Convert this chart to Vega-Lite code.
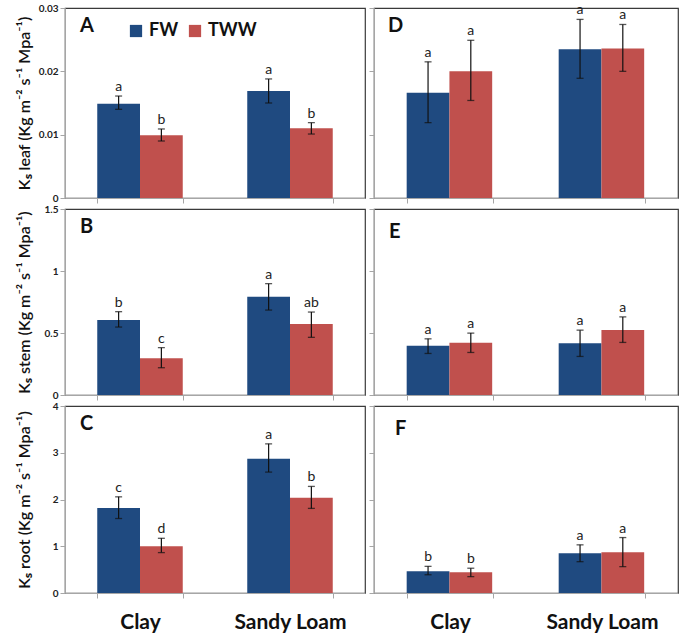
{
  "$schema": "https://vega.github.io/schema/vega-lite/v6.json",
  "padding": {"left": 15, "top": 2, "right": 4, "bottom": 4},
  "background": "white",
  "data": {"values": [
    {"panel": "A", "soil": "Clay", "trt": "FW", "value": 0.0149, "lo": 0.0140, "hi": 0.0161, "letter": "a"},
    {"panel": "A", "soil": "Clay", "trt": "TWW", "value": 0.0099, "lo": 0.0090, "hi": 0.0109, "letter": "b"},
    {"panel": "A", "soil": "Sandy Loam", "trt": "FW", "value": 0.0169, "lo": 0.0150, "hi": 0.0188, "letter": "a"},
    {"panel": "A", "soil": "Sandy Loam", "trt": "TWW", "value": 0.0110, "lo": 0.0101, "hi": 0.0119, "letter": "b"},
    {"panel": "D", "soil": "Clay", "trt": "FW", "value": 0.0166, "lo": 0.0119, "hi": 0.0215, "letter": "a"},
    {"panel": "D", "soil": "Clay", "trt": "TWW", "value": 0.0200, "lo": 0.0154, "hi": 0.0249, "letter": "a"},
    {"panel": "D", "soil": "Sandy Loam", "trt": "FW", "value": 0.0235, "lo": 0.0189, "hi": 0.0282, "letter": "a"},
    {"panel": "D", "soil": "Sandy Loam", "trt": "TWW", "value": 0.0236, "lo": 0.0200, "hi": 0.0274, "letter": "a"},
    {"panel": "B", "soil": "Clay", "trt": "FW", "value": 0.605, "lo": 0.548, "hi": 0.672, "letter": "b"},
    {"panel": "B", "soil": "Clay", "trt": "TWW", "value": 0.296, "lo": 0.220, "hi": 0.382, "letter": "c"},
    {"panel": "B", "soil": "Sandy Loam", "trt": "FW", "value": 0.793, "lo": 0.685, "hi": 0.898, "letter": "a"},
    {"panel": "B", "soil": "Sandy Loam", "trt": "TWW", "value": 0.573, "lo": 0.465, "hi": 0.669, "letter": "ab"},
    {"panel": "E", "soil": "Clay", "trt": "FW", "value": 0.397, "lo": 0.335, "hi": 0.453, "letter": "a"},
    {"panel": "E", "soil": "Clay", "trt": "TWW", "value": 0.421, "lo": 0.343, "hi": 0.499, "letter": "a"},
    {"panel": "E", "soil": "Sandy Loam", "trt": "FW", "value": 0.418, "lo": 0.311, "hi": 0.523, "letter": "a"},
    {"panel": "E", "soil": "Sandy Loam", "trt": "TWW", "value": 0.525, "lo": 0.424, "hi": 0.630, "letter": "a"},
    {"panel": "C", "soil": "Clay", "trt": "FW", "value": 1.82, "lo": 1.593, "hi": 2.057, "letter": "c"},
    {"panel": "C", "soil": "Clay", "trt": "TWW", "value": 1.0, "lo": 0.864, "hi": 1.17, "letter": "d"},
    {"panel": "C", "soil": "Sandy Loam", "trt": "FW", "value": 2.87, "lo": 2.586, "hi": 3.19, "letter": "a"},
    {"panel": "C", "soil": "Sandy Loam", "trt": "TWW", "value": 2.04, "lo": 1.81, "hi": 2.28, "letter": "b"},
    {"panel": "F", "soil": "Clay", "trt": "FW", "value": 0.464, "lo": 0.39, "hi": 0.57, "letter": "b"},
    {"panel": "F", "soil": "Clay", "trt": "TWW", "value": 0.443, "lo": 0.35, "hi": 0.53, "letter": "b"},
    {"panel": "F", "soil": "Sandy Loam", "trt": "FW", "value": 0.85, "lo": 0.67, "hi": 1.03, "letter": "a"},
    {"panel": "F", "soil": "Sandy Loam", "trt": "TWW", "value": 0.871, "lo": 0.564, "hi": 1.186, "letter": "a"}
  ]},
  "columns": 2,
  "spacing": {"row": 11, "column": 9},
  "bounds": "flush",
  "concat": [
    {
      "width": 300, "height": 190,
      "title": {"text": "A", "dx": 15},
      "transform": [{"filter": "datum.panel === 'A'"}],
      "encoding": {
        "x": {"field": "soil", "type": "nominal", "sort": ["Clay", "Sandy Loam"], "scale": {"paddingInner": 0.43, "paddingOuter": 0.215}, "axis": {"title": null, "labels": false, "tickBand": "extent"}},
        "xOffset": {"field": "trt", "type": "nominal", "sort": ["FW", "TWW"], "scale": {"paddingInner": 0, "paddingOuter": 0}}
      },
      "layer": [
        {"mark": {"type": "bar"}, "encoding": {
          "y": {"field": "value", "type": "quantitative", "scale": {"domain": [0, 0.03], "nice": false}, "axis": {"title": "Kₛ leaf (Kg m⁻² s⁻¹ Mpa⁻¹)", "values": [0, 0.01, 0.02, 0.03], "format": "~g"}},
          "color": {"field": "trt", "type": "nominal", "scale": {"domain": ["FW", "TWW"], "range": ["#1F4A80", "#C0504D"]}, "legend": {"orient": "none", "legendX": 62, "legendY": 14, "direction": "horizontal", "title": null}}}},
        {"mark": {"type": "rule", "color": "#111", "strokeWidth": 1.2}, "encoding": {"y": {"field": "lo", "type": "quantitative"}, "y2": {"field": "hi"}}},
        {"mark": {"type": "tick", "color": "#111", "size": 7, "thickness": 1.3}, "encoding": {"y": {"field": "lo", "type": "quantitative"}}},
        {"mark": {"type": "tick", "color": "#111", "size": 7, "thickness": 1.3}, "encoding": {"y": {"field": "hi", "type": "quantitative"}}},
        {"mark": {"type": "text", "dy": -5, "baseline": "alphabetic", "fontSize": 14, "color": "#222"}, "encoding": {"y": {"field": "hi", "type": "quantitative"}, "text": {"field": "letter"}}}
      ]
    },
    {
      "width": 304, "height": 190,
      "title": {"text": "D", "dx": 14},
      "transform": [{"filter": "datum.panel === 'D'"}],
      "encoding": {
        "x": {"field": "soil", "type": "nominal", "sort": ["Clay", "Sandy Loam"], "scale": {"paddingInner": 0.43, "paddingOuter": 0.215}, "axis": {"title": null, "labels": false, "tickBand": "extent"}},
        "xOffset": {"field": "trt", "type": "nominal", "sort": ["FW", "TWW"], "scale": {"paddingInner": 0, "paddingOuter": 0}}
      },
      "layer": [
        {"mark": {"type": "bar"}, "encoding": {
          "y": {"field": "value", "type": "quantitative", "scale": {"domain": [0, 0.03], "nice": false}, "axis": {"title": null, "labels": false, "values": [0, 0.01, 0.02, 0.03]}},
          "color": {"field": "trt", "type": "nominal", "scale": {"domain": ["FW", "TWW"], "range": ["#1F4A80", "#C0504D"]}, "legend": {"orient": "none", "legendX": 62, "legendY": 14, "direction": "horizontal", "title": null}}}},
        {"mark": {"type": "rule", "color": "#111", "strokeWidth": 1.2}, "encoding": {"y": {"field": "lo", "type": "quantitative"}, "y2": {"field": "hi"}}},
        {"mark": {"type": "tick", "color": "#111", "size": 7, "thickness": 1.3}, "encoding": {"y": {"field": "lo", "type": "quantitative"}}},
        {"mark": {"type": "tick", "color": "#111", "size": 7, "thickness": 1.3}, "encoding": {"y": {"field": "hi", "type": "quantitative"}}},
        {"mark": {"type": "text", "dy": -5, "baseline": "alphabetic", "fontSize": 14, "color": "#222"}, "encoding": {"y": {"field": "hi", "type": "quantitative"}, "text": {"field": "letter"}}}
      ]
    },
    {
      "width": 300, "height": 186,
      "title": {"text": "B", "dx": 15},
      "transform": [{"filter": "datum.panel === 'B'"}],
      "encoding": {
        "x": {"field": "soil", "type": "nominal", "sort": ["Clay", "Sandy Loam"], "scale": {"paddingInner": 0.43, "paddingOuter": 0.215}, "axis": {"title": null, "labels": false, "tickBand": "extent"}},
        "xOffset": {"field": "trt", "type": "nominal", "sort": ["FW", "TWW"], "scale": {"paddingInner": 0, "paddingOuter": 0}}
      },
      "layer": [
        {"mark": {"type": "bar"}, "encoding": {
          "y": {"field": "value", "type": "quantitative", "scale": {"domain": [0, 1.5], "nice": false}, "axis": {"title": "Kₛ stem (Kg m⁻² s⁻¹ Mpa⁻¹)", "values": [0, 0.5, 1, 1.5], "format": "~g"}},
          "color": {"field": "trt", "type": "nominal", "scale": {"domain": ["FW", "TWW"], "range": ["#1F4A80", "#C0504D"]}, "legend": {"orient": "none", "legendX": 62, "legendY": 14, "direction": "horizontal", "title": null}}}},
        {"mark": {"type": "rule", "color": "#111", "strokeWidth": 1.2}, "encoding": {"y": {"field": "lo", "type": "quantitative"}, "y2": {"field": "hi"}}},
        {"mark": {"type": "tick", "color": "#111", "size": 7, "thickness": 1.3}, "encoding": {"y": {"field": "lo", "type": "quantitative"}}},
        {"mark": {"type": "tick", "color": "#111", "size": 7, "thickness": 1.3}, "encoding": {"y": {"field": "hi", "type": "quantitative"}}},
        {"mark": {"type": "text", "dy": -5, "baseline": "alphabetic", "fontSize": 14, "color": "#222"}, "encoding": {"y": {"field": "hi", "type": "quantitative"}, "text": {"field": "letter"}}}
      ]
    },
    {
      "width": 304, "height": 186,
      "title": {"text": "E", "dx": 15},
      "transform": [{"filter": "datum.panel === 'E'"}],
      "encoding": {
        "x": {"field": "soil", "type": "nominal", "sort": ["Clay", "Sandy Loam"], "scale": {"paddingInner": 0.43, "paddingOuter": 0.215}, "axis": {"title": null, "labels": false, "tickBand": "extent"}},
        "xOffset": {"field": "trt", "type": "nominal", "sort": ["FW", "TWW"], "scale": {"paddingInner": 0, "paddingOuter": 0}}
      },
      "layer": [
        {"mark": {"type": "bar"}, "encoding": {
          "y": {"field": "value", "type": "quantitative", "scale": {"domain": [0, 1.5], "nice": false}, "axis": {"title": null, "labels": false, "values": [0, 0.5, 1, 1.5]}},
          "color": {"field": "trt", "type": "nominal", "scale": {"domain": ["FW", "TWW"], "range": ["#1F4A80", "#C0504D"]}, "legend": {"orient": "none", "legendX": 62, "legendY": 14, "direction": "horizontal", "title": null}}}},
        {"mark": {"type": "rule", "color": "#111", "strokeWidth": 1.2}, "encoding": {"y": {"field": "lo", "type": "quantitative"}, "y2": {"field": "hi"}}},
        {"mark": {"type": "tick", "color": "#111", "size": 7, "thickness": 1.3}, "encoding": {"y": {"field": "lo", "type": "quantitative"}}},
        {"mark": {"type": "tick", "color": "#111", "size": 7, "thickness": 1.3}, "encoding": {"y": {"field": "hi", "type": "quantitative"}}},
        {"mark": {"type": "text", "dy": -5, "baseline": "alphabetic", "fontSize": 14, "color": "#222"}, "encoding": {"y": {"field": "hi", "type": "quantitative"}, "text": {"field": "letter"}}}
      ]
    },
    {
      "width": 300, "height": 187,
      "title": {"text": "C", "dx": 15},
      "transform": [{"filter": "datum.panel === 'C'"}],
      "encoding": {
        "x": {"field": "soil", "type": "nominal", "sort": ["Clay", "Sandy Loam"], "scale": {"paddingInner": 0.43, "paddingOuter": 0.215}, "axis": {"title": null, "labels": true, "labelAngle": 0, "labelBaseline": "top", "tickBand": "extent", "labelFontSize": 21, "labelPadding": 13, "labelColor": "#111"}},
        "xOffset": {"field": "trt", "type": "nominal", "sort": ["FW", "TWW"], "scale": {"paddingInner": 0, "paddingOuter": 0}}
      },
      "layer": [
        {"mark": {"type": "bar"}, "encoding": {
          "y": {"field": "value", "type": "quantitative", "scale": {"domain": [0, 4], "nice": false}, "axis": {"title": "Kₛ root (Kg m⁻² s⁻¹ Mpa⁻¹)", "values": [0, 1, 2, 3, 4], "format": "~g"}},
          "color": {"field": "trt", "type": "nominal", "scale": {"domain": ["FW", "TWW"], "range": ["#1F4A80", "#C0504D"]}, "legend": {"orient": "none", "legendX": 62, "legendY": 14, "direction": "horizontal", "title": null}}}},
        {"mark": {"type": "rule", "color": "#111", "strokeWidth": 1.2}, "encoding": {"y": {"field": "lo", "type": "quantitative"}, "y2": {"field": "hi"}}},
        {"mark": {"type": "tick", "color": "#111", "size": 7, "thickness": 1.3}, "encoding": {"y": {"field": "lo", "type": "quantitative"}}},
        {"mark": {"type": "tick", "color": "#111", "size": 7, "thickness": 1.3}, "encoding": {"y": {"field": "hi", "type": "quantitative"}}},
        {"mark": {"type": "text", "dy": -5, "baseline": "alphabetic", "fontSize": 14, "color": "#222"}, "encoding": {"y": {"field": "hi", "type": "quantitative"}, "text": {"field": "letter"}}}
      ]
    },
    {
      "width": 304, "height": 187,
      "title": {"text": "F", "dx": 21},
      "transform": [{"filter": "datum.panel === 'F'"}],
      "encoding": {
        "x": {"field": "soil", "type": "nominal", "sort": ["Clay", "Sandy Loam"], "scale": {"paddingInner": 0.43, "paddingOuter": 0.215}, "axis": {"title": null, "labels": true, "labelAngle": 0, "labelBaseline": "top", "tickBand": "extent", "labelFontSize": 21, "labelPadding": 13, "labelColor": "#111"}},
        "xOffset": {"field": "trt", "type": "nominal", "sort": ["FW", "TWW"], "scale": {"paddingInner": 0, "paddingOuter": 0}}
      },
      "layer": [
        {"mark": {"type": "bar"}, "encoding": {
          "y": {"field": "value", "type": "quantitative", "scale": {"domain": [0, 4], "nice": false}, "axis": {"title": null, "labels": false, "values": [0, 1, 2, 3, 4]}},
          "color": {"field": "trt", "type": "nominal", "scale": {"domain": ["FW", "TWW"], "range": ["#1F4A80", "#C0504D"]}, "legend": {"orient": "none", "legendX": 62, "legendY": 14, "direction": "horizontal", "title": null}}}},
        {"mark": {"type": "rule", "color": "#111", "strokeWidth": 1.2}, "encoding": {"y": {"field": "lo", "type": "quantitative"}, "y2": {"field": "hi"}}},
        {"mark": {"type": "tick", "color": "#111", "size": 7, "thickness": 1.3}, "encoding": {"y": {"field": "lo", "type": "quantitative"}}},
        {"mark": {"type": "tick", "color": "#111", "size": 7, "thickness": 1.3}, "encoding": {"y": {"field": "hi", "type": "quantitative"}}},
        {"mark": {"type": "text", "dy": -5, "baseline": "alphabetic", "fontSize": 14, "color": "#222"}, "encoding": {"y": {"field": "hi", "type": "quantitative"}, "text": {"field": "letter"}}}
      ]
    }
  ],
  "resolve": {"scale": {"color": "shared", "x": "independent", "y": "independent"}, "legend": {"color": "shared"}},
  "config": {
    "font": "Lato",
    "view": {"stroke": "#3a3a3a", "strokeWidth": 1.2},
    "axis": {"grid": false, "domainColor": "#a6a6a6", "tickColor": "#a6a6a6", "tickSize": 5, "labelColor": "#222", "labelFont": "Lato", "labelFontWeight": "bold", "labelFontSize": 10, "titleFont": "Lato", "titleFontSize": 16, "titleFontWeight": 600, "titleColor": "#111", "titlePadding": 5, "minExtent": 28},
    "title": {"anchor": "start", "frame": "group", "offset": -33, "fontSize": 20, "fontWeight": "bold", "color": "#111", "font": "Lato"},
    "legend": {"symbolType": "square", "symbolSize": 150, "labelFontSize": 18, "labelFontWeight": "bold", "labelColor": "#111", "labelFont": "Lato", "columnPadding": 7, "labelOffset": 4, "symbolStrokeWidth": 0, "padding": 0},
    "text": {"font": "Lato"}
  }
}
